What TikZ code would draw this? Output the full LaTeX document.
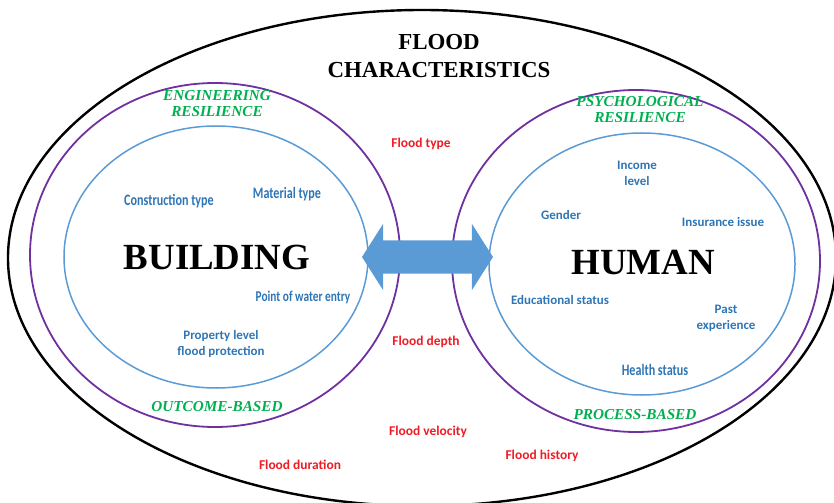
\documentclass[tikz,border=0pt]{standalone}
\usepackage{fontspec}
\setmainfont{Liberation Serif}
\newfontfamily\calfont{Carlito}
\newfontfamily\condfont[FakeStretch=0.76]{Carlito}
\usetikzlibrary{shapes.geometric,shapes.arrows}

\definecolor{ringblue}{HTML}{5B9BD5}
\definecolor{txtblue}{HTML}{2E75B6}
\definecolor{ringpurple}{HTML}{7030A0}
\definecolor{resgreen}{HTML}{00B050}
\definecolor{floodred}{HTML}{EE1C25}

\begin{document}
\begin{tikzpicture}[x=1bp,y=-1bp]
        \clip (0,0) rectangle (834,503);

        % the three rings on each side
        \begin{scope}[every node/.style={ellipse,draw,inner sep=0pt}]
          \node[line width=2.4bp,minimum width=828bp,minimum height=496bp] (flood) at (422,258) {};
          \node[ringpurple,line width=1.8bp,minimum width=370bp,minimum height=344bp] (bres) at (215,255) {};
          \node[ringblue,line width=1.5bp,minimum width=304bp,minimum height=262bp] (bldg) at (216,257) {};
          \node[ringpurple,line width=1.8bp,minimum width=368bp,minimum height=342bp] (hres) at (636,261) {};
          \node[ringblue,line width=1.5bp,minimum width=306bp,minimum height=262bp] (hum) at (642,264) {};
        \end{scope}

        \node[double arrow,fill=ringblue,inner sep=0pt,inner ysep=16.5bp,
              minimum height=131bp,double arrow head extend=16.5bp,
              double arrow tip angle=115] (link) at (427.5,257) {};

        % titles
        \begin{scope}[every node/.style={font=\bfseries}]
          \node[align=center,font=\bfseries\fontsize{23}{28}\selectfont] (title) at (439,56) {FLOOD\\CHARACTERISTICS};
          \node[font=\bfseries\fontsize{37}{37}\selectfont] (b) at (217,257) {BUILDING};
          \node[font=\bfseries\fontsize{37}{37}\selectfont] (h) at (643,263) {HUMAN};
        \end{scope}

        \begin{scope}[every node/.style={resgreen,align=center,font=\bfseries\itshape\fontsize{15.3}{16}\selectfont}]
          \node (eng) at (217,104) {ENGINEERING\\RESILIENCE};
          \node (psy) at (640,110) {PSYCHOLOGICAL\\RESILIENCE};
          \node (out) at (217,407) {OUTCOME-BASED};
          \node (pro) at (635,415) {PROCESS-BASED};
        \end{scope}

        \begin{scope}[every node/.style={txtblue,font=\condfont\bfseries\fontsize{16}{16}\selectfont}]
          \node (con) at (169,201) {Construction type};
          \node (mat) at (287,194) {Material type};
          \node[font=\condfont\bfseries\fontsize{15}{15}\selectfont] (pnt) at (303,297) {Point of water entry};
          \node (hea) at (655,370) {Health status};
        \end{scope}

        \begin{scope}[every node/.style={txtblue,align=center,font=\calfont\bfseries\fontsize{13}{16}\selectfont}]
          \node (plf) at (221,344) {Property level\\flood protection};
          \node (inc) at (637,173) {Income\\level};
          \node (gen) at (561,215) {Gender};
          \node (ins) at (723,222) {Insurance issue};
          \node (edu) at (560,300) {Educational status};
          \node (pas) at (726,318) {Past\\experience};
        \end{scope}

        \begin{scope}[every node/.style={floodred,font=\calfont\bfseries\fontsize{13.5}{14}\selectfont}]
          \node (typ) at (421,144) {Flood type};
          \node (dep) at (426,342) {Flood depth};
          \node (vel) at (428,432) {Flood velocity};
          \node (dur) at (300,465) {Flood duration};
          \node (his) at (542,456) {Flood history};
        \end{scope}

      \end{tikzpicture}
\end{document}
